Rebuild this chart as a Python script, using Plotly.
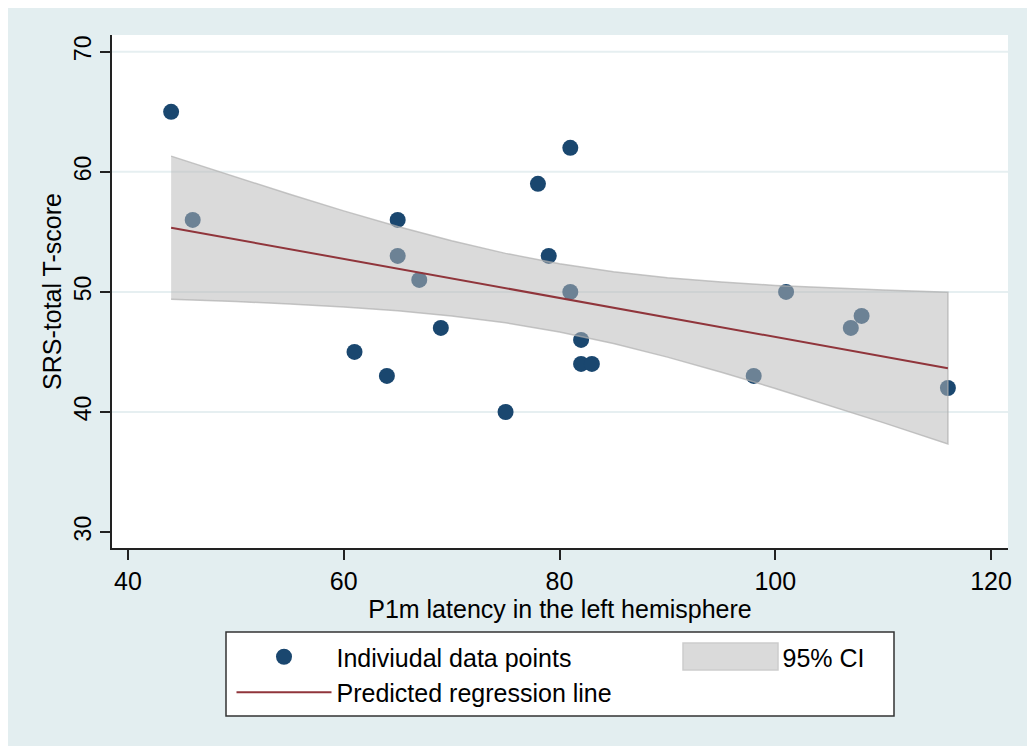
import plotly.graph_objects as go

# ---- data ----
latency = [44, 46, 61, 64, 65, 65, 67, 69, 75, 78, 79, 81, 81, 82, 82, 83, 98, 101, 107, 108, 116]
srs = [65, 56, 45, 43, 56, 53, 51, 47, 40, 59, 53, 62, 50, 46, 44, 44, 43, 50, 47, 48, 42]

fit_x = [44, 116]
fit_y = [55.35, 43.65]

ci_x = [44, 50, 55, 60, 65, 70, 75, 80, 85, 90, 95, 100, 105, 110, 116]
ci_upper = [61.31, 59.56, 58.13, 56.75, 55.45, 54.26, 53.21, 52.34, 51.68, 51.19, 50.83, 50.54, 50.33, 50.15, 49.97]
ci_lower = [49.39, 49.20, 48.99, 48.75, 48.43, 48.00, 47.43, 46.66, 45.70, 44.57, 43.31, 41.96, 40.55, 39.11, 37.33]

x_ticks = [40, 60, 80, 100, 120]
y_ticks = [30, 40, 50, 60, 70]
y_grid = [40, 50, 60, 70]

NAVY = "#1a476f"
MAROON = "#90353b"
BG = "#e3eef0"
CI_FILL = "rgba(184,184,184,0.52)"
FONT = "Liberation Sans, Arial, sans-serif"
X_RANGE = [38.52, 121.57]
Y_RANGE = [28.67, 71.4]

fig = go.Figure()

fig.add_trace(go.Scatter(
    x=latency, y=srs, mode="markers", name="Indiviudal data points",
    marker=dict(color=NAVY, size=16, line=dict(width=0)),
))

fig.add_trace(go.Scatter(
    x=ci_x + ci_x[::-1], y=ci_upper + ci_lower[::-1],
    mode="lines", fill="toself", name="95% CI", showlegend=False,
    fillcolor=CI_FILL,
    line=dict(color="rgba(175,175,175,0.7)", width=1.5),
))

# legend entry for the CI band (key drawn as a box below)
fig.add_trace(go.Scatter(
    x=[None], y=[None], mode="markers", name="95% CI",
    marker=dict(color="rgba(0,0,0,0)", size=1),
))

fig.add_trace(go.Scatter(
    x=fit_x, y=fit_y, mode="lines", name="Predicted regression line",
    line=dict(color=MAROON, width=2),
))

W, H = 1035, 746
OFF = 8  # page body margin
ML, MT = 112 - OFF, 35 - OFF
PW, PH = 896, 513
MR = W - ML - PW
MB = H - MT - PH


def px_x(p):
    return (p - OFF - ML) / PW


def px_y(p):
    return (MT + PH - (p - OFF)) / PH


shapes = [
    # legend box
    dict(type="rect", xref="paper", yref="paper", x0=px_x(226), x1=px_x(894), y0=px_y(716), y1=px_y(632),
         fillcolor="white", line=dict(color="#333333", width=1.5), layer="below"),
    # legend key for the 95% CI
    dict(type="rect", xref="paper", yref="paper", x0=px_x(683), x1=px_x(778), y0=px_y(670), y1=px_y(643),
         fillcolor="#dadada", line=dict(color="#cdcdcd", width=1.5), layer="below"),
]
# horizontal grid lines (Stata draws none at 30)
for g in y_grid:
    shapes.append(dict(type="line", xref="x", yref="y", x0=X_RANGE[0], x1=X_RANGE[1], y0=g, y1=g,
                       line=dict(color="#e6eff1", width=2), layer="below"))

fig.update_layout(
    width=W, height=H,
    margin=dict(l=ML, r=MR, t=MT, b=MB, autoexpand=False),
    paper_bgcolor=BG, plot_bgcolor="white",
    font=dict(family=FONT, color="black", size=24),
    shapes=shapes,
    showlegend=True,
    legend=dict(
        orientation="h", x=px_x(231.5), xanchor="left", y=px_y(634), yanchor="top",
        bgcolor="rgba(0,0,0,0)", borderwidth=0,
        itemwidth=95, entrywidth=336, entrywidthmode="pixels",
        font=dict(size=25, family=FONT), traceorder="normal",
    ),
    xaxis=dict(
        range=X_RANGE, tickvals=x_ticks, ticks="outside", ticklen=10, tickwidth=1.5,
        tickcolor="#222222", showline=True, linecolor="#222222", linewidth=1.5,
        showgrid=False, zeroline=False, tickfont=dict(size=25),
        title=dict(text="P1m latency in the left hemisphere", font=dict(size=25), standoff=5),
    ),
    yaxis=dict(
        range=Y_RANGE, tickvals=y_ticks, ticks="outside", ticklen=10, tickwidth=1.5,
        tickcolor="#222222", showline=True, linecolor="#222222", linewidth=1.5,
        showgrid=False, zeroline=False,
        tickangle=-90, tickfont=dict(size=23),
        title=dict(text="SRS-total T-score", font=dict(size=25), standoff=1),
    ),
)

fig.write_html("out.html")
